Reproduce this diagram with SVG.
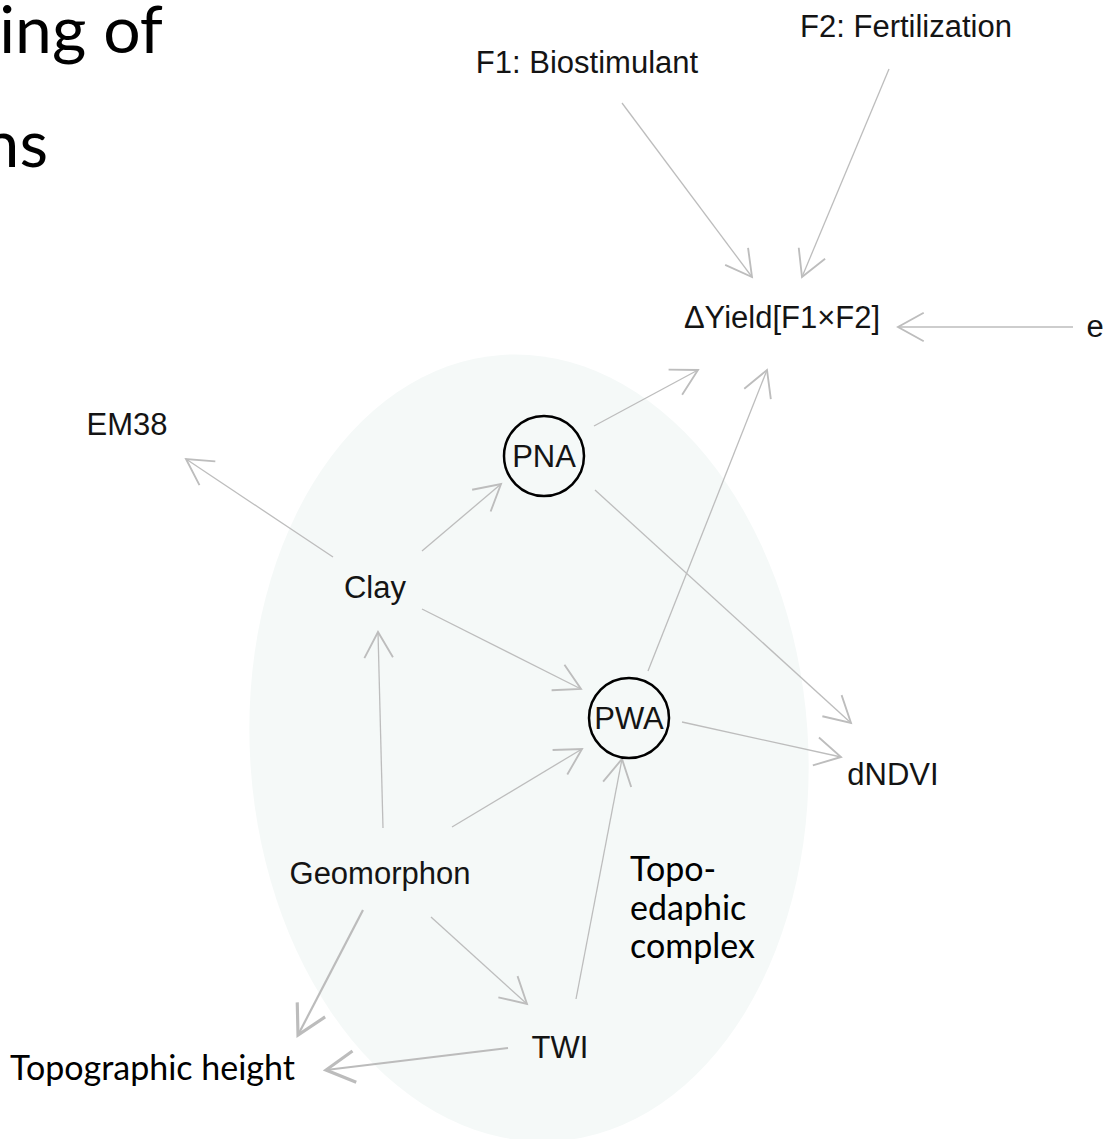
<svg xmlns="http://www.w3.org/2000/svg" width="1115" height="1139" viewBox="0 0 1115 1139">
<style>
.r{font-family:"Liberation Sans",Arial,sans-serif;font-size:31px;fill:#141414;text-anchor:middle}
.c{font-family:Lato,"Open Sans",sans-serif;fill:#000}
.e{fill:none;stroke:#bdbdbd;stroke-width:1.3}
.p{fill:none;stroke:#bcbcbc;stroke-width:2.2}
.n{fill:none;stroke:#000;stroke-width:2.5}
</style>
<defs>
<marker id="a" markerUnits="userSpaceOnUse" markerWidth="40" markerHeight="40" refX="0" refY="0" viewBox="-22 -14 26 28" orient="auto" overflow="visible">
<path d="M-18,-10 L0,0 L-18,10" fill="none" stroke="#bdbdbd" stroke-width="1.3"/>
</marker>
<marker id="b" markerUnits="userSpaceOnUse" markerWidth="40" markerHeight="40" refX="0" refY="0" viewBox="-22 -14 26 28" orient="auto" overflow="visible">
<path d="M-20,-11 L0,0 L-20,11" fill="none" stroke="#bcbcbc" stroke-width="2.2"/>
</marker>
</defs>
<rect width="1115" height="1139" fill="#fff"/>
<g id="complex">
<ellipse cx="529" cy="748" rx="279" ry="394" transform="rotate(-4 529 748)" fill="#f5f9f8"/>
<text class="c" font-size="34" x="630" y="881">Topo-</text>
<text class="c" font-size="34" x="630" y="920">edaphic</text>
<text class="c" font-size="34" x="630" y="958">complex</text>
</g>
<g id="title">
<text class="c" font-size="66" x="163" y="53" text-anchor="end">ing of</text>
<text class="c" font-size="66" x="48" y="167" text-anchor="end">ns</text>
</g>
<g id="connectors">
<line class="e" x1="622" y1="103" x2="752" y2="277" marker-end="url(#a)"/>
<line class="e" x1="889" y1="69" x2="802" y2="277" marker-end="url(#a)"/>
<line class="e" x1="1073" y1="327" x2="898" y2="327" marker-end="url(#a)"/>
<line class="e" x1="594" y1="426" x2="698" y2="370" marker-end="url(#a)"/>
<line class="e" x1="648" y1="671" x2="767" y2="370" marker-end="url(#a)"/>
<line class="e" x1="333" y1="557" x2="186" y2="459" marker-end="url(#a)"/>
<line class="e" x1="422" y1="551" x2="501" y2="484" marker-end="url(#a)"/>
<line class="e" x1="422" y1="609" x2="581" y2="689" marker-end="url(#a)"/>
<line class="e" x1="595" y1="490" x2="851" y2="723" marker-end="url(#a)"/>
<line class="e" x1="682" y1="722" x2="841" y2="757" marker-end="url(#a)"/>
<line class="e" x1="383" y1="828" x2="378" y2="632" marker-end="url(#a)"/>
<line class="e" x1="452" y1="827" x2="582" y2="749" marker-end="url(#a)"/>
<line class="e" x1="576" y1="999" x2="622" y2="759" marker-end="url(#a)"/>
<line class="e" x1="431" y1="917" x2="527" y2="1004" marker-end="url(#a)"/>
<line class="p" x1="363" y1="910" x2="298" y2="1035" marker-end="url(#b)"/>
<line class="p" x1="508" y1="1048" x2="326" y2="1070" marker-end="url(#b)"/>
</g>
<g id="F1"><text class="r" x="587" y="73">F1: Biostimulant</text></g>
<g id="F2"><text class="r" x="906" y="37">F2: Fertilization</text></g>
<g id="Yield"><text class="r" x="782" y="328">ΔYield[F1×F2]</text></g>
<g id="e"><text class="r" x="1095" y="337">e</text></g>
<g id="EM38"><text class="r" x="127" y="435">EM38</text></g>
<g id="PNA"><circle class="n" cx="544" cy="456" r="40"/><text class="r" x="544" y="467">PNA</text></g>
<g id="Clay"><text class="r" x="375" y="598">Clay</text></g>
<g id="PWA"><circle class="n" cx="629" cy="718" r="40"/><text class="r" x="629" y="729">PWA</text></g>
<g id="dNDVI"><text class="r" x="893" y="785">dNDVI</text></g>
<g id="Geomorphon"><text class="r" x="380" y="884">Geomorphon</text></g>
<g id="TWI"><text class="r" x="560" y="1058">TWI</text></g>
<g id="TopoHeight"><text class="c" font-size="34" x="10" y="1080">Topographic height</text></g>
</svg>
